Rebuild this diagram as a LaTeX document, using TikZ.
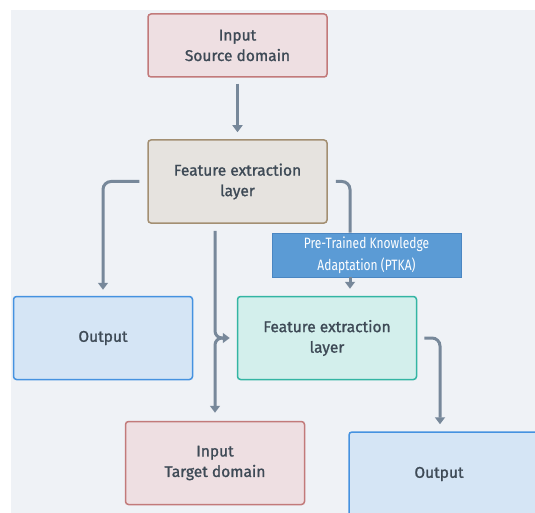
\documentclass[tikz,border=0pt]{standalone}
\usepackage{fontspec}
\setmainfont{Fira Sans}
\usetikzlibrary{arrows.meta,calc}
\definecolor{bgc}{HTML}{EFF2F6}
\definecolor{txt}{HTML}{3E4A56}
\definecolor{redfill}{HTML}{EEDFE2}
\definecolor{redline}{HTML}{C27A7A}
\definecolor{tanfill}{HTML}{E6E3DF}
\definecolor{tanline}{HTML}{A38F72}
\definecolor{bluefill}{HTML}{D5E5F5}
\definecolor{blueline}{HTML}{4592E0}
\definecolor{tealfill}{HTML}{D3EFEC}
\definecolor{tealline}{HTML}{33B5A3}
\definecolor{ptkafill}{HTML}{5B9BD5}
\definecolor{ptkaline}{HTML}{4A86C2}
\definecolor{conn}{HTML}{77889A}
\tikzset{
  box/.style={draw, line width=1.5pt, rounded corners=3pt, minimum width=179pt, minimum height=83pt,
    align=center, text=txt, font=\fontsize{15.5}{20.5}\selectfont\addfontfeature{FakeBold=1.2}},
  redbox/.style={box, fill=redfill, draw=redline},
  tanbox/.style={box, fill=tanfill, draw=tanline},
  bluebox/.style={box, fill=bluefill, draw=blueline},
  tealbox/.style={box, fill=tealfill, draw=tealline},
  ptkabox/.style={draw=ptkaline, fill=ptkafill, line width=0.8pt, minimum width=189pt, minimum height=44pt,
    align=center, text=white, font=\fontsize{15}{22}\selectfont},
  conline/.style={draw=conn, line width=3pt},
  conarr/.style={conline, -{Triangle[length=7pt,width=10pt]}},
}
\begin{document}
\begin{tikzpicture}[x=1pt,y=-1pt]
\useasboundingbox (0,0) rectangle (535,513);
\clip (0,0) rectangle (535,513);
\fill[white] (0,0) rectangle (535,513);
\fill[bgc] (11,10) rectangle (540,520);

\node[redbox, minimum height=63pt] (src) at (237.5,45.5) {Input\\Source domain};
\node[tanbox] (fe1) at (237.5,181.5) {Feature extraction\\layer};
\node[ptkabox] (ptka) at (366.5,255) {\scalebox{0.8}[1]{Pre-Trained Knowledge}\\\scalebox{0.8}[1]{Adaptation (PTKA)}};
\node[bluebox] (out1) at (103,338) {Output};
\node[tealbox] (fe2) at (327,338) {Feature extraction\\layer};
\node[redbox] (tgt) at (215,463) {Input\\Target domain};
\node[bluebox, minimum width=196pt, minimum height=84pt] (out2) at (447,474) {\hspace*{-16pt}Output};

\draw[conarr] ([yshift=-6pt]src.south) -- ([yshift=7pt]fe1.north);
\draw[conarr, rounded corners=8pt] ([xshift=-8pt]fe1.west) -| ([yshift=6pt]out1.north);
\draw[conline, rounded corners=8pt] ([xshift=8pt]fe1.east) -| ([xshift=-16.5pt]ptka.north);
\draw[conarr, shorten >=7pt] ([xshift=-16.5pt]ptka.south) -- ([xshift=-16.5pt]ptka.south |- fe2.north);
\draw[conarr, rounded corners=7pt] ([xshift=-22.5pt,yshift=-7pt]fe1.south) |- ([xshift=-7pt]fe2.west);
\draw[conarr, rounded corners=7pt] ([xshift=-12pt]fe2.west) -| ([yshift=8pt]tgt.north);
\draw[conarr, rounded corners=8pt] ([xshift=7pt]fe2.east) -| ([xshift=-7pt,yshift=7pt]out2.north);
\end{tikzpicture}
\end{document}
